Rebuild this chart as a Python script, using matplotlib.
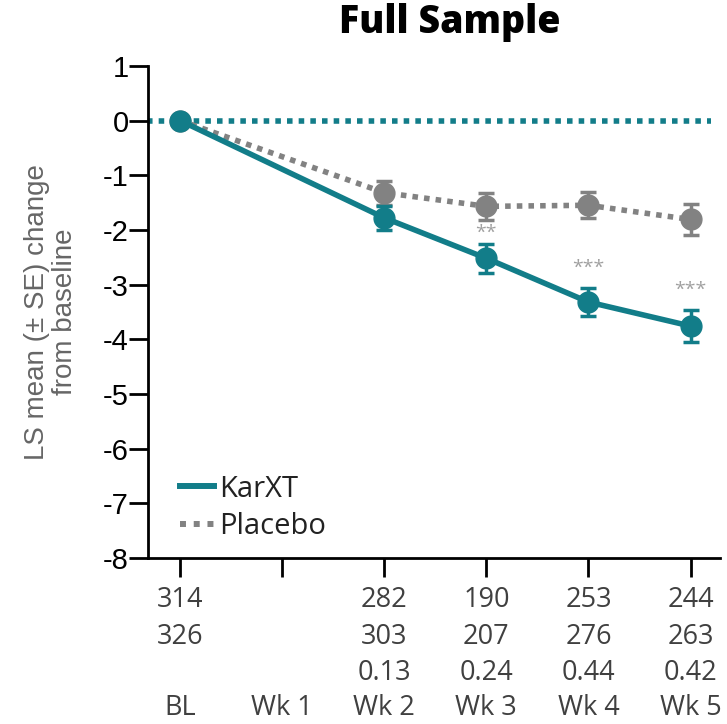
import matplotlib
matplotlib.use("Agg")
import matplotlib.pyplot as plt
import matplotlib.transforms as mtransforms
from matplotlib.lines import Line2D

# data
visits = ["BL", "Wk 1", "Wk 2", "Wk 3", "Wk 4", "Wk 5"]
karxt_x = [0, 2, 3, 4, 5]
karxt_mean = [0.0, -1.78, -2.52, -3.32, -3.76]
karxt_se = [0.0, 0.22, 0.26, 0.26, 0.29]
placebo_x = [0, 2, 3, 4, 5]
placebo_mean = [0.0, -1.32, -1.57, -1.55, -1.81]
placebo_se = [0.0, 0.22, 0.25, 0.24, 0.29]
n_karxt = ["314", "", "282", "190", "253", "244"]
n_placebo = ["326", "", "303", "207", "276", "263"]
effect_size = ["", "", "0.13", "0.24", "0.44", "0.42"]
stars_x = [3, 4, 5]
stars_y = [-2.05, -2.7, -3.1]
stars_txt = ["**", "***", "***"]

teal = "#127D89"
grey = "#828282"
sans = ["Open Sans", "DejaVu Sans"]

plt.rcParams["axes.unicode_minus"] = False
plt.rcParams["font.family"] = ["Liberation Sans", "DejaVu Sans"]

fig = plt.figure(figsize=(7.27, 7.24), dpi=100)
ax = fig.add_axes([0.2036, 0.2295, 0.787, 0.6795])

ax.plot([-0.32, 5.2], [0, 0], color=teal, lw=4, dashes=(1, 1.1),
        dash_capstyle="butt", zorder=1)

ax.errorbar(placebo_x, placebo_mean, yerr=placebo_se, color=grey, lw=4,
            dashes=(1, 1.1), dash_capstyle="butt", marker="o", markersize=15,
            elinewidth=2.5, capsize=6, capthick=2.5, zorder=2)
ax.errorbar(karxt_x, karxt_mean, yerr=karxt_se, color=teal, lw=4,
            marker="o", markersize=15, elinewidth=2.5, capsize=6,
            capthick=2.5, zorder=3)

for x, y, s in zip(stars_x, stars_y, stars_txt):
    ax.text(x, y, s, ha="center", va="center", fontsize=14, color="#a0a0a0",
            family=sans)

ax.set_xlim(-0.314, 5.29)
ax.set_ylim(-8, 1)
ax.set_yticks(range(-8, 2))
ax.set_xticks(range(len(visits)))
ax.set_xticklabels([])
ax.tick_params(axis="y", direction="out", length=14, width=2, labelsize=21,
               pad=0)
ax.tick_params(axis="x", direction="out", length=14, width=2)
for side in ["top", "right"]:
    ax.spines[side].set_visible(False)
for side in ["left", "bottom"]:
    ax.spines[side].set_linewidth(2)

trans = mtransforms.blended_transform_factory(ax.transData, ax.transAxes)
rows = [n_karxt, n_placebo, effect_size, visits]
row_y = [-0.086, -0.161, -0.235, -0.306]
for vals, ry in zip(rows, row_y):
    for i, v in enumerate(vals):
        if v:
            ax.text(i, ry, v, transform=trans, ha="center", va="center",
                    fontsize=19.5, color="#404040", clip_on=False, family=sans)

ax.set_ylabel("LS mean (\u00b1 SE) change\nfrom baseline", fontsize=20,
              color="#666666", linespacing=1.1)
ax.yaxis.set_label_coords(-0.122, 0.5)
fig.text(0.619, 0.969, "Full Sample", fontsize=27, fontweight="heavy",
         family=sans, ha="center", va="center")

handles = [Line2D([], [], color=teal, lw=4.3),
           Line2D([], [], color=grey, lw=4.3, dashes=(1, 1.3), dash_capstyle="butt")]
ax.legend(handles, ["KarXT", "Placebo"], loc="lower left",
          bbox_to_anchor=(0.01, -0.02), frameon=False,
          prop={"family": sans, "size": 21},
          handlelength=1.15, handletextpad=0.2, labelspacing=0.3,
          labelcolor="#222222")

fig.savefig("out.png", dpi=100)
